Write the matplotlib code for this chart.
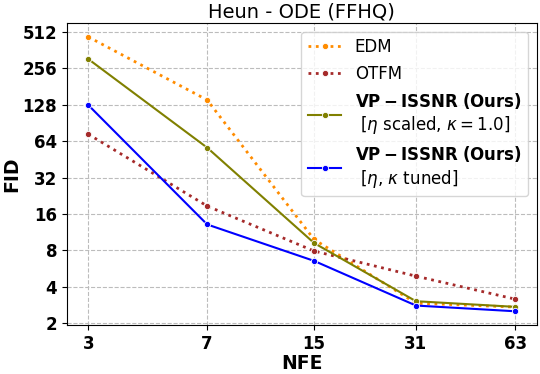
import numpy as np
import matplotlib
matplotlib.use('Agg')
import matplotlib.pyplot as plt
from matplotlib.ticker import FixedLocator, FixedFormatter, NullLocator

# Dados
nfe = [3, 7, 15, 31, 63]
fid_edm = [465, 140, 9.85, 2.93, 2.72]
fid_otfm = [73, 18.6, 7.9, 4.9, 3.16]
fid_vp_scaled = [305, 56.5, 9.2, 3.04, 2.73]
fid_vp_tuned = [127, 13.1, 6.55, 2.80, 2.51]

y_ticks = [2, 4, 8, 16, 32, 64, 128, 256, 512]

fig, ax = plt.subplots(figsize=(5.4, 3.74), dpi=100)

mk = dict(marker='o', markersize=4.5, markeredgecolor='white', markeredgewidth=0.6)
ax.plot(nfe, fid_edm, color='darkorange', linestyle=':', linewidth=2, label='EDM', **mk)
ax.plot(nfe, fid_otfm, color='brown', linestyle=':', linewidth=2, label='OTFM', **mk)
ax.plot(nfe, fid_vp_scaled, color='olive', linestyle='-', linewidth=1.5,
        label=r'$\bf{VP-ISSNR\ (Ours)}$' + '\n' + r' [$\eta$ scaled, $\kappa=1.0$]', **mk)
ax.plot(nfe, fid_vp_tuned, color='blue', linestyle='-', linewidth=1.5,
        label=r'$\bf{VP-ISSNR\ (Ours)}$' + '\n' + r' [$\eta$, $\kappa$ tuned]', **mk)

ax.set_xscale('log', base=2)
ax.set_yscale('log', base=2)
ax.xaxis.set_major_locator(FixedLocator(nfe))
ax.xaxis.set_major_formatter(FixedFormatter([str(n) for n in nfe]))
ax.xaxis.set_minor_locator(NullLocator())
ax.yaxis.set_major_locator(FixedLocator(y_ticks))
ax.yaxis.set_major_formatter(FixedFormatter([str(t) for t in y_ticks]))
ax.yaxis.set_minor_locator(NullLocator())

for lab in ax.get_xticklabels() + ax.get_yticklabels():
    lab.set_fontweight('bold')
    lab.set_fontsize(12)

ax.set_xlabel('NFE', fontsize=13.5, fontweight='bold', labelpad=1)
ax.set_ylabel('FID', fontsize=13.5, fontweight='bold', labelpad=1)
ax.set_title('Heun - ODE (FFHQ)', fontsize=14, pad=4)
ax.grid(True, linestyle='--', color='#bcbcbc', linewidth=0.8)

ax.legend(loc='upper right', fontsize=12, labelspacing=0.5)

plt.subplots_adjust(left=0.124, right=0.994, top=0.938, bottom=0.131)
plt.savefig('out.png', dpi=100)
